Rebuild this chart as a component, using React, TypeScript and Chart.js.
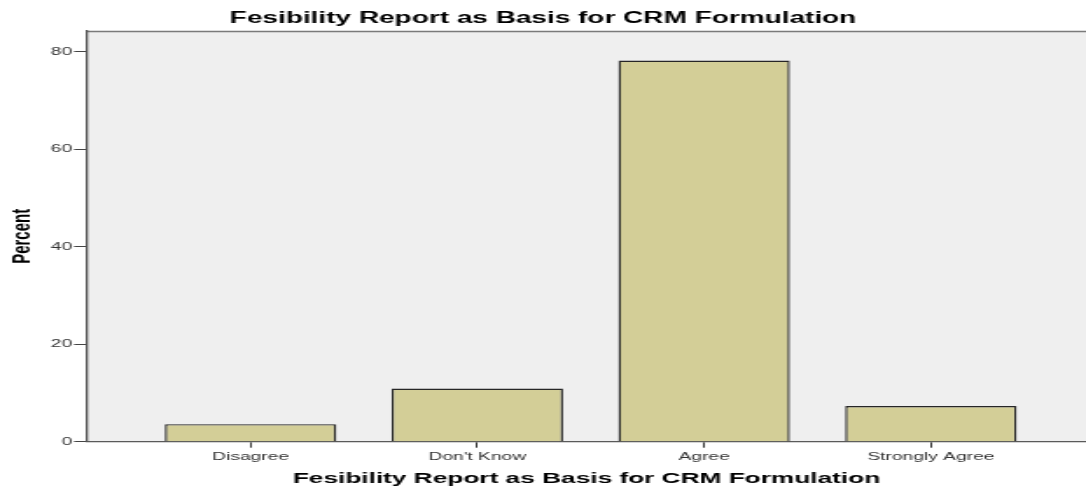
import React, { useEffect, useRef } from 'react';
import { Chart, registerables } from 'chart.js';

Chart.register(...registerables);

const categories: string[] = ['Disagree', "Don't Know", 'Agree', 'Strongly Agree'];
const percentValues: number[] = [3.6, 10.9, 78.2, 7.3];
const yTickValues: number[] = [0, 20, 40, 60, 80];
const chartTitle = 'Fesibility Report as Basis for CRM Formulation';
const xAxisTitle = 'Fesibility Report as Basis for CRM Formulation';
const yAxisTitle = 'Percent';

// the reference is horizontally stretched: draw on a narrow canvas and stretch it
const OUT_W = 1086;
const OUT_H = 492;
const STRETCH = 1.7488;
const IN_W = Math.round(OUT_W / STRETCH);

const plotBg = {
  id: 'plotBg',
  beforeDraw(chart: any) {
    const { ctx, chartArea } = chart;
    const { left, top, right, bottom } = chartArea;
    ctx.save();
    ctx.fillStyle = '#efefef';
    ctx.fillRect(left, top, right - left, bottom - top);
    ctx.strokeStyle = '#7a7a7a';
    ctx.lineWidth = 1.3;
    ctx.beginPath();
    ctx.moveTo(left, top + 0.5);
    ctx.lineTo(right, top + 0.5);
    ctx.stroke();
    ctx.restore();
  },
};

export default function App() {
  const ref = useRef<HTMLCanvasElement | null>(null);
  useEffect(() => {
    if (!ref.current) return;
    const chart = new Chart(ref.current, {
      type: 'bar',
      data: {
        datasets: [
          {
            label: yAxisTitle,
            data: percentValues.map((v, i) => ({ x: i, y: v })),
            backgroundColor: '#d3ce97',
            borderColor: '#262626',
            borderWidth: 1.4,
            barPercentage: 0.756,
            categoryPercentage: 1,
          },
        ],
      },
      options: {
        animation: false,
        responsive: false,
        devicePixelRatio: 1,
        layout: { padding: 0 },
        plugins: {
          legend: { display: false },
          tooltip: { enabled: false },
          title: {
            display: true,
            text: chartTitle,
            color: '#000',
            font: { family: 'Liberation Sans, Arial, sans-serif', size: 16, weight: 'bold' },
            padding: { top: 8.9, bottom: 2.9 },
          },
        },
        scales: {
          x: {
            type: 'linear',
            min: -0.721,
            max: 3.684,
            offset: false,
            afterBuildTicks: (scale: any) => {
              scale.ticks = categories.map((_, i) => ({ value: i }));
            },
            afterFit: (scale: any) => {
              scale.height = 50.3;
            },
            grid: { offset: false, drawOnChartArea: false, drawTicks: true, tickLength: 6, color: '#333', lineWidth: 1 },
            border: { display: true, color: '#5a5a5a', width: 1.3 },
            ticks: {
              autoSkip: false,
              maxRotation: 0,
              padding: 3,
              color: '#333',
              font: { family: 'Liberation Sans, Arial, sans-serif', size: 11 },
              callback: (v: any) => categories[v as number] ?? '',
            },
            title: {
              display: true,
              text: xAxisTitle,
              color: '#000',
              font: { family: 'Liberation Sans, Arial, sans-serif', size: 15, weight: 'bold' },
              padding: { top: 0, bottom: 4.5 },
            },
          },
          y: {
            type: 'linear',
            position: 'left',
            min: 0,
            max: 84.25,
            afterBuildTicks: (scale: any) => {
              scale.ticks = yTickValues.map((v) => ({ value: v }));
            },
            afterFit: (scale: any) => {
              scale.width = 49.75;
            },
            grid: { drawOnChartArea: false, drawTicks: true, tickLength: 7.4, color: '#444', lineWidth: 1 },
            border: { display: true, color: '#555', width: 1.3 },
            ticks: {
              padding: 1,
              color: '#333',
              font: { family: 'Liberation Sans, Arial, sans-serif', size: 11 },
            },
            title: {
              display: true,
              text: yAxisTitle,
              color: '#000',
              font: { family: 'Liberation Sans, Arial, sans-serif', size: 15, weight: 'bold' },
              padding: { top: 3.4, bottom: 0 },
            },
          },
        },
      } as any,
      plugins: [plotBg],
    });
    return () => chart.destroy();
  }, []);

  return (
    <div style={{ position: 'fixed', left: 0, top: 0, width: OUT_W, height: OUT_H, background: '#fff' }}>
      <canvas
        ref={ref}
        width={IN_W}
        height={OUT_H}
        style={{ display: 'block', width: OUT_W + 'px', height: OUT_H + 'px' }}
      />
    </div>
  );
}
